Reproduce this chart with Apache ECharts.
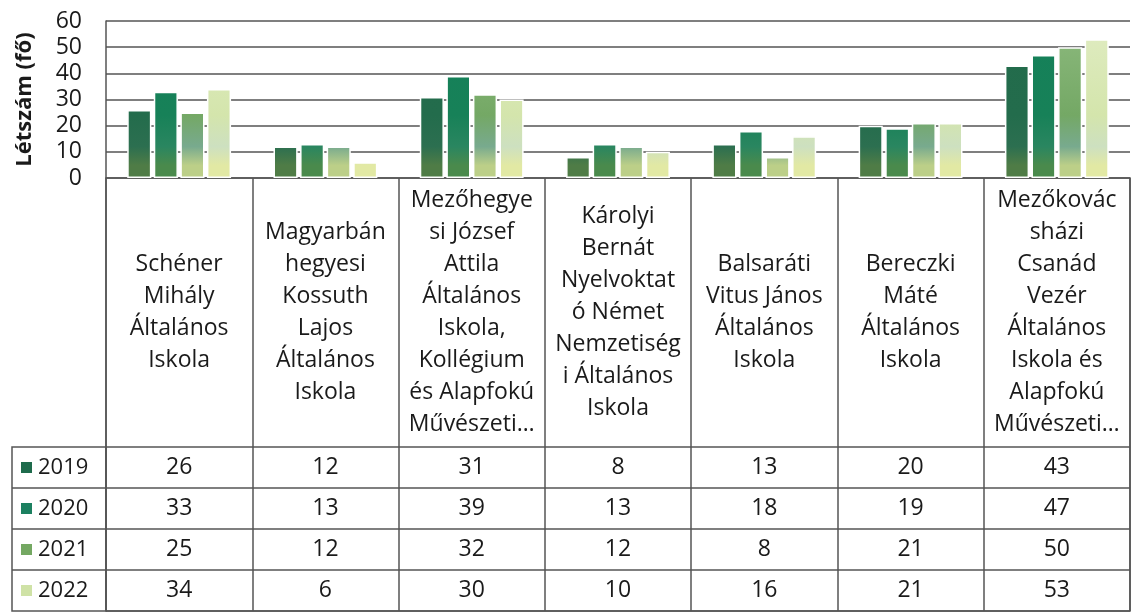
<!DOCTYPE html>
<html>
<head>
<meta charset="utf-8">
<script src="https://cdn.jsdelivr.net/npm/echarts@6/dist/echarts.min.js"></script>
<style>
  html, body { margin: 0; padding: 0; background: #fff; }
  #chart { width: 1131px; height: 616px; }
</style>
</head>
<body>
<div id="chart"></div>
<script>
(function () {
  "use strict";

  var schools = [
    "Schéner\nMihály\nÁltalános\nIskola",
    "Magyarbán\nhegyesi\nKossuth\nLajos\nÁltalános\nIskola",
    "Mezőhegye\nsi József\nAttila\nÁltalános\nIskola,\nKollégium\nés Alapfokú\nMűvészeti…",
    "Károlyi\nBernát\nNyelvoktat\nó Német\nNemzetiség\ni Általános\nIskola",
    "Balsaráti\nVitus János\nÁltalános\nIskola",
    "Bereczki\nMáté\nÁltalános\nIskola",
    "Mezőkovác\nsházi\nCsanád\nVezér\nÁltalános\nIskola és\nAlapfokú\nMűvészeti…"
  ];
  var years = ["2019", "2020", "2021", "2022"];
  var v2019 = [26, 12, 31, 8, 13, 20, 43];
  var v2020 = [33, 13, 39, 13, 18, 19, 47];
  var v2021 = [25, 12, 32, 12, 8, 21, 50];
  var v2022 = [34, 6, 30, 10, 16, 21, 53];
  var yTicks = [0, 10, 20, 30, 40, 50, 60];

  var values = [v2019, v2020, v2021, v2022];
  var legendColors = ["#1e6b4c", "#1c8060", "#74a862", "#cfe2a6"];

  var FONT = "'Open Sans', 'Noto Sans', sans-serif";
  var TEXT = "#1a1a1a";
  var LINE = "#555";
  var PLOT_LEFT = 106;
  var PLOT_TOP = 21;
  var PLOT_BOTTOM = 178;
  var TABLE_TOP = 447;
  var ROW_H = 41;
  var TABLE_BOTTOM = TABLE_TOP + ROW_H * years.length;
  var LEG_LEFT = 12;

  // bar fills: band of yellow near the base, same for every bar
  function fill(top, mid, low, base) {
    return new echarts.graphic.LinearGradient(0, PLOT_TOP, 0, PLOT_BOTTOM, [
      { offset: 0, color: top },
      { offset: 0.6, color: mid },
      { offset: 0.8, color: low },
      { offset: 0.92, color: base },
      { offset: 1, color: base }
    ], true);
  }
  var barFills = [
    fill("#226b4b", "#236c4c", "#2c6f50", "#4f7c46"),
    fill("#148059", "#178158", "#2a8660", "#4a8a4c"),
    fill("#8dba7e", "#74a865", "#78aa8e", "#bccf88"),
    fill("#e0ecc2", "#d4e5ac", "#cde0c0", "#e2e9a4")
  ];

  var barSeries = years.map(function (y, i) {
    return {
      name: y,
      type: "bar",
      xAxisIndex: 0,
      yAxisIndex: 0,
      barGap: "10%",
      barCategoryGap: "29%",
      itemStyle: { color: barFills[i], borderColor: "#fff", borderWidth: 1.5 },
      data: values[i]
    };
  });

  var cells = [];
  values.forEach(function (row, r) {
    row.forEach(function (v, c) {
      cells.push([c, r, v]);
    });
  });

  var rich = { t: { fontSize: 22, fontFamily: FONT, color: TEXT, padding: [0, 0, 0, 6] } };
  years.forEach(function (y, i) {
    rich["s" + i] = { width: 11, height: 11, backgroundColor: legendColors[i] };
  });

  var legendLines = [
    { type: "rect", shape: { x: LEG_LEFT, y: TABLE_TOP, width: PLOT_LEFT - LEG_LEFT, height: TABLE_BOTTOM - TABLE_TOP },
      style: { fill: "none", stroke: LINE, lineWidth: 1.5 } }
  ];
  for (var k = 1; k < years.length; k++) {
    legendLines.push({
      type: "line",
      shape: { x1: LEG_LEFT, y1: TABLE_TOP + k * ROW_H, x2: PLOT_LEFT, y2: TABLE_TOP + k * ROW_H },
      style: { stroke: LINE, lineWidth: 1.5 }
    });
  }

  var chart = echarts.init(document.getElementById("chart"));
  chart.setOption({
    animation: false,
    textStyle: { fontFamily: FONT },
    graphic: legendLines,
    grid: [
      { left: PLOT_LEFT, right: 1, top: PLOT_TOP, height: PLOT_BOTTOM - PLOT_TOP },
      { left: PLOT_LEFT, right: 1, top: PLOT_BOTTOM, height: TABLE_BOTTOM - PLOT_BOTTOM,
        show: true, borderColor: LINE, borderWidth: 1.5 },
      { left: PLOT_LEFT, right: 1, top: TABLE_TOP, height: TABLE_BOTTOM - TABLE_TOP }
    ],
    xAxis: [
      {
        gridIndex: 0,
        type: "category",
        data: schools,
        axisLine: { show: false },
        axisTick: { show: false },
        axisLabel: {
          interval: 0,
          margin: (TABLE_TOP - PLOT_BOTTOM) / 2,
          verticalAlign: "middle",
          fontSize: 23,
          lineHeight: 32,
          color: TEXT,
          fontFamily: FONT
        }
      },
      {
        gridIndex: 1,
        type: "category",
        data: schools,
        axisLine: { show: false },
        axisTick: { show: false },
        axisLabel: { show: false },
        splitLine: { show: true, interval: 0, lineStyle: { color: LINE, width: 1.5 } }
      },
      {
        gridIndex: 2,
        type: "category",
        data: schools,
        show: false
      }
    ],
    yAxis: [
      {
        gridIndex: 0,
        type: "value",
        min: yTicks[0],
        max: yTicks[yTicks.length - 1],
        interval: 10,
        name: "Létszám (fő)",
        nameLocation: "middle",
        nameGap: 70,
        nameRotate: 90,
        nameTextStyle: { fontSize: 22, fontWeight: "bold", color: TEXT, fontFamily: FONT },
        axisLine: { show: true, lineStyle: { color: LINE, width: 1.5 } },
        axisTick: { show: false },
        axisLabel: { fontSize: 23, color: TEXT, margin: 24, fontFamily: FONT },
        splitLine: { show: true, lineStyle: { color: LINE, width: 1.5 } }
      },
      {
        gridIndex: 1,
        type: "value",
        show: false
      },
      {
        gridIndex: 2,
        type: "category",
        inverse: true,
        data: years,
        axisLine: { show: false },
        axisTick: { show: false },
        axisLabel: {
          align: "left",
          margin: PLOT_LEFT - LEG_LEFT - 9,
          formatter: function (v, i) {
            return "{s" + i + "|}{t|" + v + "}";
          },
          rich: rich
        },
        splitLine: { show: true, interval: 0, lineStyle: { color: LINE, width: 1.5 } }
      }
    ],
    series: barSeries.concat([
      {
        type: "custom",
        xAxisIndex: 2,
        yAxisIndex: 2,
        data: cells,
        renderItem: function (params, api) {
          var p = api.coord([api.value(0), api.value(1)]);
          return {
            type: "text",
            x: p[0],
            y: p[1],
            style: {
              text: String(api.value(2)),
              align: "center",
              verticalAlign: "middle",
              fontSize: 23,
              fontFamily: FONT,
              fill: TEXT
            }
          };
        }
      }
    ])
  });

  window.addEventListener("resize", function () {
    chart.resize();
  });
})();
</script>
</body>
</html>
